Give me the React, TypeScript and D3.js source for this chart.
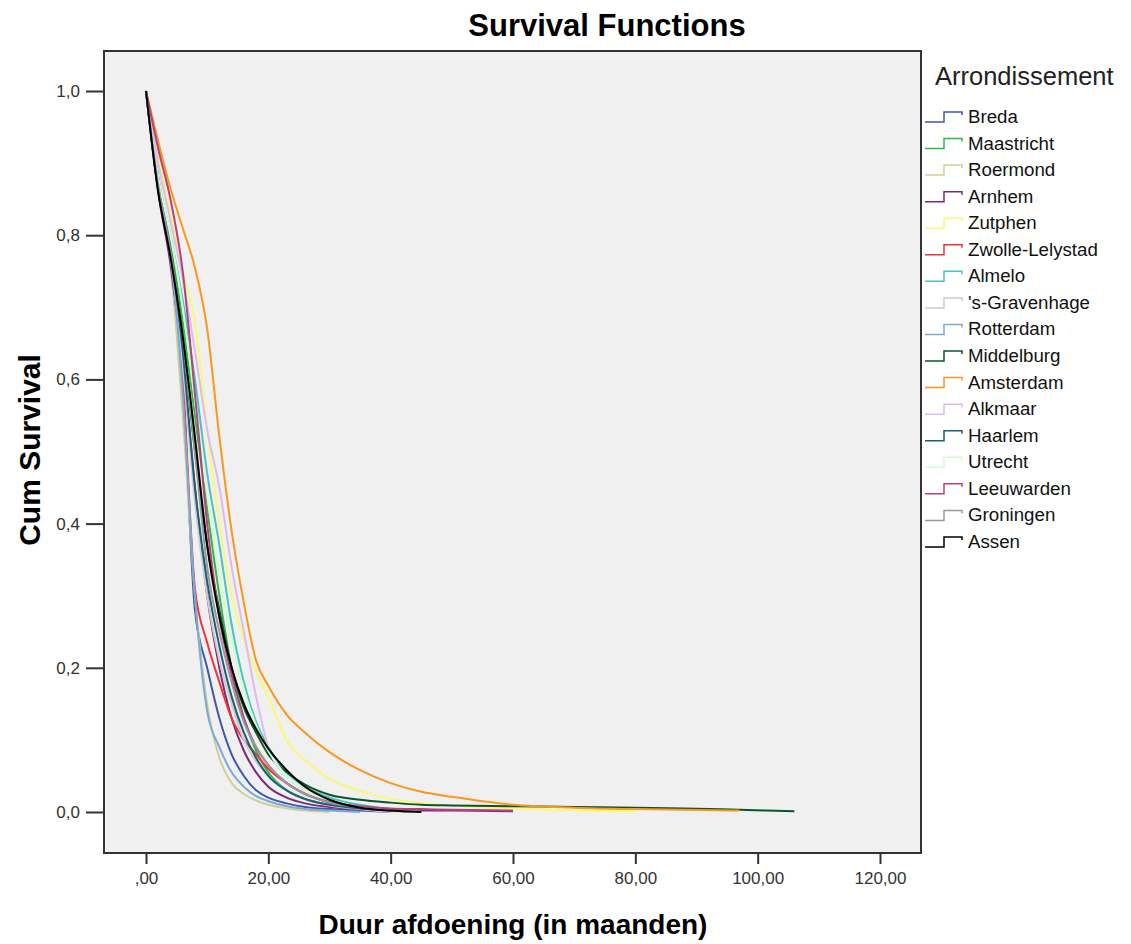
import React, { useEffect, useRef } from 'react';
import * as d3 from 'd3';

// time grid (months) shared by all survival series
const months = [0, 2, 4, 6, 8, 10, 12, 14, 16, 18, 20, 23, 26, 30, 35, 40, 45, 50, 60, 70, 80, 88, 97, 106];

// cumulative survival; a series stops where its array ends
const breda = [1, 0.87, 0.78, 0.6, 0.28, 0.2, 0.13, 0.08, 0.05, 0.03, 0.02, 0.012, 0.007, 0.004, 0.002, 0];
const maastricht = [1, 0.87, 0.79, 0.68, 0.55, 0.42, 0.3, 0.2, 0.13, 0.085, 0.055, 0.03, 0.018, 0.01, 0.004, 0];
const roermond = [1, 0.87, 0.76, 0.55, 0.3, 0.15, 0.075, 0.04, 0.025, 0.016, 0.01, 0.005, 0.002, 0];
const arnhem = [1, 0.86, 0.76, 0.62, 0.45, 0.3, 0.2, 0.13, 0.085, 0.055, 0.035, 0.02, 0.012, 0.007, 0.004, 0.003, 0.002, 0.002, 0.001];
const zutphen = [1, 0.91, 0.83, 0.75, 0.68, 0.53, 0.4, 0.3, 0.24, 0.195, 0.16, 0.1, 0.072, 0.046, 0.029, 0.018, 0.012, 0.009, 0.005, 0.002, 0.001];
const zwolle = [1, 0.88, 0.78, 0.6, 0.31, 0.235, 0.18, 0.13, 0.1, 0.08, 0.06, 0.04, 0.025, 0.013, 0.006, 0.003, 0];
const almelo = [1, 0.88, 0.8, 0.71, 0.6, 0.47, 0.37, 0.26, 0.18, 0.125, 0.09, 0.055, 0.035, 0.02, 0.01, 0.004, 0];
const gravenhage = [1, 0.87, 0.77, 0.62, 0.43, 0.3, 0.21, 0.15, 0.1, 0.07, 0.05, 0.03, 0.018, 0.009, 0.004, 0.001, 0];
const rotterdam = [1, 0.88, 0.78, 0.58, 0.3, 0.14, 0.09, 0.055, 0.035, 0.022, 0.015, 0.008, 0.004, 0.002, 0];
const middelburg = [1, 0.86, 0.78, 0.66, 0.5, 0.37, 0.28, 0.2, 0.145, 0.11, 0.08, 0.055, 0.038, 0.024, 0.017, 0.013, 0.01, 0.009, 0.008, 0.007, 0.006, 0.005, 0.003, 0.001];
const amsterdam = [1, 0.93, 0.865, 0.81, 0.755, 0.67, 0.52, 0.39, 0.29, 0.21, 0.175, 0.135, 0.11, 0.083, 0.058, 0.04, 0.028, 0.021, 0.01, 0.006, 0.004, 0.003, 0.002];
const alkmaar = [1, 0.9, 0.82, 0.74, 0.64, 0.53, 0.45, 0.34, 0.25, 0.16, 0.09, 0.05, 0.03, 0.015, 0.005, 0];
const haarlem = [1, 0.87, 0.78, 0.64, 0.45, 0.32, 0.23, 0.16, 0.11, 0.075, 0.05, 0.03, 0.018, 0.01, 0.005, 0.002, 0];
const utrecht = [1, 0.88, 0.8, 0.7, 0.57, 0.44, 0.33, 0.24, 0.17, 0.12, 0.085, 0.05, 0.03, 0.016, 0.007, 0.003, 0];
const leeuwarden = [1, 0.92, 0.85, 0.75, 0.58, 0.4, 0.27, 0.19, 0.13, 0.09, 0.065, 0.04, 0.025, 0.014, 0.008, 0.005, 0.004, 0.003, 0.002];
const groningen = [1, 0.87, 0.78, 0.66, 0.5, 0.34, 0.25, 0.18, 0.125, 0.09, 0.065, 0.04, 0.025, 0.013, 0.006, 0.002, 0];
const assen = [1, 0.86, 0.77, 0.66, 0.52, 0.37, 0.27, 0.2, 0.15, 0.115, 0.088, 0.058, 0.035, 0.017, 0.006, 0.002, 0];

const names = ['Breda', 'Maastricht', 'Roermond', 'Arnhem', 'Zutphen', 'Zwolle-Lelystad', 'Almelo', "'s-Gravenhage", 'Rotterdam', 'Middelburg', 'Amsterdam', 'Alkmaar', 'Haarlem', 'Utrecht', 'Leeuwarden', 'Groningen', 'Assen'];
const colors = ['#3e58ac', '#2eb848', '#d3ce97', '#7c287d', '#fbf873', '#ef3338', '#48c2c5', '#cccccc', '#7aaad5', '#0a562c', '#f8981d', '#ddbaf1', '#1a5f76', '#ccffcc', '#bb3f7f', '#999999', '#000000'];
const values = [breda, maastricht, roermond, arnhem, zutphen, zwolle, almelo, gravenhage, rotterdam, middelburg, amsterdam, alkmaar, haarlem, utrecht, leeuwarden, groningen, assen];

const xTicks = [0, 20, 40, 60, 80, 100, 120];
const yTicks = [0, 0.2, 0.4, 0.6, 0.8, 1.0];

function App() {
  const ref = useRef(null);
  const width = 1131;
  const height = 944;

  useEffect(() => {
    const svg = d3.select(ref.current);
    svg.selectAll('*').remove();

    const font = 'Liberation Sans, Arial, sans-serif';
    const frame = { left: 104, top: 51, right: 921, bottom: 853 };

    const x = d3.scaleLinear().domain([0, 120]).range([146, 880]);
    const y = d3.scaleLinear().domain([0, 1]).range([812, 91]);

    svg.append('rect').attr('width', width).attr('height', height).attr('fill', '#fff');

    // plot area
    svg.append('rect')
      .attr('x', frame.left).attr('y', frame.top)
      .attr('width', frame.right - frame.left).attr('height', frame.bottom - frame.top)
      .attr('fill', '#f0f0f0');

    // curves
    const line = d3.line<number>()
      .x((d, i) => x(months[i]))
      .y(d => y(d))
      .curve(d3.curveMonotoneX);

    values.forEach((vals, k) => {
      svg.append('path')
        .attr('d', line(vals))
        .attr('fill', 'none')
        .attr('stroke', colors[k])
        .attr('stroke-width', 2)
        .attr('stroke-linejoin', 'round');
    });

    // frame
    svg.append('rect')
      .attr('x', frame.left).attr('y', frame.top)
      .attr('width', frame.right - frame.left).attr('height', frame.bottom - frame.top)
      .attr('fill', 'none').attr('stroke', '#333').attr('stroke-width', 2);

    // y axis
    const yAxis = d3.axisLeft(y).tickValues(yTicks).tickSize(18).tickPadding(6)
      .tickFormat(d => d3.format('.1f')(+d).replace('.', ','));
    const gy = svg.append('g').attr('transform', `translate(${frame.left},0)`).call(yAxis);
    gy.select('.domain').remove();
    gy.selectAll('line').attr('stroke', '#333').attr('stroke-width', 2);
    gy.selectAll('text').attr('font-family', font).attr('font-size', 17).attr('fill', '#333');

    // x axis
    const xAxis = d3.axisBottom(x).tickValues(xTicks).tickSize(11).tickPadding(8)
      .tickFormat(d => (+d === 0 ? ',00' : d3.format('.2f')(+d).replace('.', ',')));
    const gx = svg.append('g').attr('transform', `translate(0,${frame.bottom})`).call(xAxis);
    gx.select('.domain').remove();
    gx.selectAll('line').attr('stroke', '#333').attr('stroke-width', 2);
    gx.selectAll('text').attr('font-family', font).attr('font-size', 17).attr('fill', '#333');

    // titles
    svg.append('text')
      .attr('x', 607).attr('y', 36)
      .attr('text-anchor', 'middle')
      .attr('font-family', font).attr('font-size', 31).attr('font-weight', 'bold')
      .text('Survival Functions');

    svg.append('text')
      .attr('x', 513).attr('y', 934)
      .attr('text-anchor', 'middle')
      .attr('font-family', font).attr('font-size', 28).attr('font-weight', 'bold')
      .text('Duur afdoening (in maanden)');

    svg.append('text')
      .attr('transform', 'translate(40,450) rotate(-90)')
      .attr('text-anchor', 'middle')
      .attr('font-family', font).attr('font-size', 30).attr('font-weight', 'bold')
      .text('Cum Survival');

    // legend
    svg.append('text')
      .attr('x', 935).attr('y', 85)
      .attr('font-family', font).attr('font-size', 25.5).attr('fill', '#222')
      .text('Arrondissement');

    const legend = svg.append('g');
    names.forEach((name, k) => {
      const cy = 117 + k * 26.56;
      legend.append('path')
        .attr('d', `M925,${cy + 5}H944V${cy - 5}H962V${cy - 2}`)
        .attr('fill', 'none')
        .attr('stroke', colors[k])
        .attr('stroke-width', 1.5);
      legend.append('text')
        .attr('x', 968).attr('y', cy + 6)
        .attr('font-family', font).attr('font-size', 18.7).attr('fill', '#111')
        .text(name);
    });
  }, []);

  return (
    <svg ref={ref} width={width} height={height} style={{ position: 'absolute', left: 0, top: 0 }} />
  );
}

export default App;
